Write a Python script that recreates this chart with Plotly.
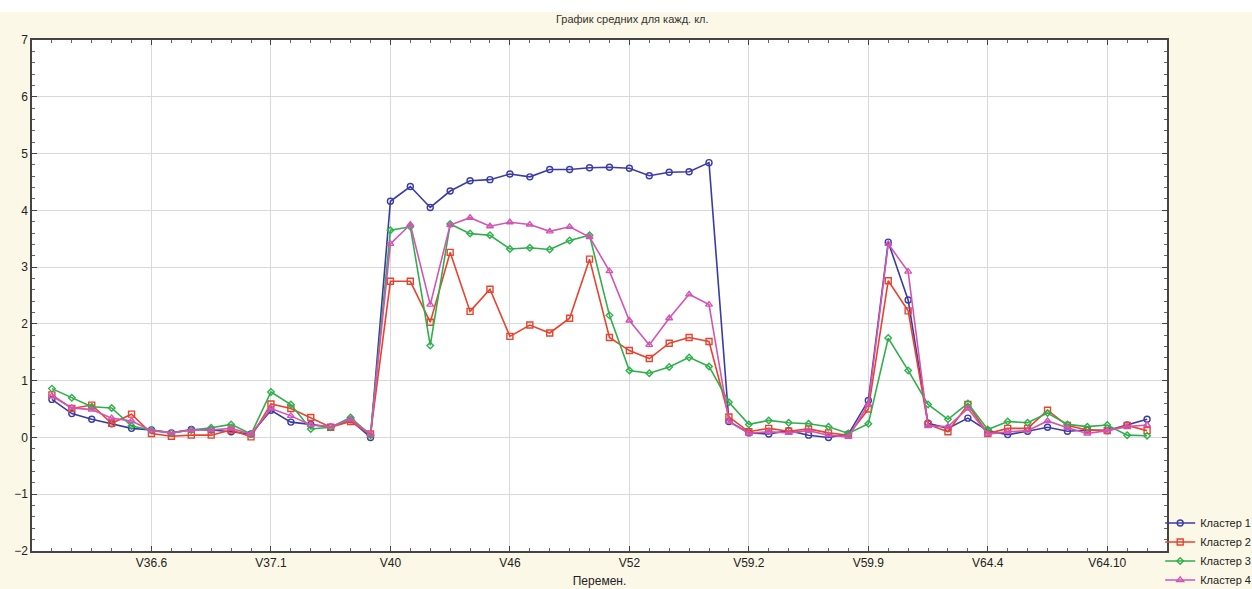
import plotly.graph_objects as go

title = "График средних для кажд. кл."
x_title = "Перемен."
tick_labels = ["V36.6", "V37.1", "V40", "V46", "V52", "V59.2", "V59.9", "V64.4", "V64.10"]
series_names = ["Кластер 1", "Кластер 2", "Кластер 3", "Кластер 4"]

cluster1 = [0.67, 0.42, 0.32, 0.24, 0.16, 0.13, 0.08, 0.14, 0.13, 0.10, 0.06, 0.48, 0.27, 0.23, 0.18, 0.31, 0.00,
            4.16, 4.42, 4.05, 4.34, 4.52, 4.54, 4.64, 4.59, 4.72, 4.72, 4.75, 4.76, 4.74, 4.61, 4.67, 4.68, 4.84,
            0.28, 0.08, 0.06, 0.12, 0.04, 0.00, 0.06, 0.65, 3.44, 2.42, 0.25, 0.16, 0.34, 0.12, 0.05, 0.11, 0.18,
            0.11, 0.13, 0.12, 0.22, 0.32]
cluster2 = [0.75, 0.51, 0.57, 0.25, 0.41, 0.07, 0.02, 0.04, 0.04, 0.13, 0.01, 0.59, 0.51, 0.35, 0.18, 0.28, 0.06,
            2.75, 2.75, 2.03, 3.26, 2.22, 2.61, 1.78, 1.98, 1.84, 2.10, 3.14, 1.76, 1.53, 1.39, 1.66, 1.76, 1.69,
            0.36, 0.10, 0.16, 0.11, 0.15, 0.08, 0.04, 0.50, 2.76, 2.23, 0.23, 0.10, 0.58, 0.07, 0.16, 0.16, 0.48,
            0.21, 0.13, 0.12, 0.21, 0.12]
cluster3 = [0.86, 0.70, 0.54, 0.52, 0.20, 0.13, 0.08, 0.13, 0.17, 0.23, 0.06, 0.80, 0.58, 0.15, 0.18, 0.35, 0.04,
            3.65, 3.71, 1.62, 3.76, 3.59, 3.56, 3.32, 3.34, 3.31, 3.47, 3.56, 2.15, 1.18, 1.13, 1.24, 1.41, 1.25,
            0.62, 0.23, 0.30, 0.26, 0.24, 0.19, 0.07, 0.24, 1.75, 1.18, 0.58, 0.32, 0.60, 0.14, 0.28, 0.26, 0.43,
            0.23, 0.19, 0.22, 0.04, 0.03]
cluster4 = [0.73, 0.52, 0.49, 0.34, 0.29, 0.12, 0.08, 0.13, 0.13, 0.16, 0.06, 0.51, 0.38, 0.22, 0.19, 0.32, 0.06,
            3.41, 3.75, 2.34, 3.74, 3.87, 3.72, 3.79, 3.75, 3.63, 3.71, 3.53, 2.93, 2.06, 1.63, 2.10, 2.52, 2.34,
            0.28, 0.07, 0.10, 0.08, 0.12, 0.04, 0.01, 0.58, 3.41, 2.92, 0.20, 0.19, 0.51, 0.06, 0.10, 0.12, 0.29,
            0.17, 0.07, 0.12, 0.19, 0.22]

n = len(cluster1)
x = list(range(1, n + 1))
tick_step = 6
tickvals = [tick_step * (k + 1) for k in range(len(tick_labels))]

colors = ["#3B3BA6", "#E8432E", "#2FAF4B", "#D255B4"]
symbols = ["circle-open", "square-open", "diamond-open", "triangle-up-open"]
sizes = [6, 6, 5, 6]
data = [cluster1, cluster2, cluster3, cluster4]

fig = go.Figure()
for name, ys, c, s, sz in zip(series_names, data, colors, symbols, sizes):
    fig.add_trace(go.Scatter(
        x=x, y=ys, name=name, mode="lines+markers",
        line=dict(color=c, width=1.6),
        marker=dict(symbol=s, size=sz, color=c, line=dict(color=c, width=1.4)),
    ))

fig.update_layout(
    width=1252, height=589,
    margin=dict(l=32, r=85, t=40, b=38, autoexpand=False),
    paper_bgcolor="#FCF8E7",
    plot_bgcolor="white",
    font=dict(family="Arial, Liberation Sans", size=12, color="#222222"),
    title=dict(text=title, x=0.505, xanchor="center", y=0.968, yanchor="middle",
               font=dict(size=11, color="#333333")),
    showlegend=True,
    legend=dict(x=0.994, xanchor="left", y=-0.085, yanchor="bottom",
                bgcolor="rgba(0,0,0,0)", font=dict(size=11, color="#222222"),
                itemwidth=30, tracegroupgap=0),
    shapes=[dict(type="rect", xref="paper", yref="paper", x0=-0.1, x1=1.1,
                 y0=1 + 28 / 511, y1=1.2, fillcolor="white", line=dict(width=0), layer="below")],
)

fig.update_xaxes(
    range=[0, n + 1], tickmode="array", tickvals=tickvals, ticktext=tick_labels,
    showgrid=True, gridcolor="#D9D9D9", gridwidth=1, automargin=False,
    showline=True, linecolor="#444444", linewidth=1.5, mirror="ticks",
    ticks="inside", ticklen=5, tickcolor="#444444",
    minor=dict(tickmode="linear", tick0=0, dtick=1, ticks="inside", ticklen=3, tickcolor="#666666", showgrid=False),
    zeroline=False,
    title=dict(text=x_title, standoff=7, font=dict(size=12)),
    tickfont=dict(size=12),
)
fig.update_yaxes(
    range=[-2, 7], dtick=1, tick0=0, automargin=False,
    showgrid=True, gridcolor="#D9D9D9", gridwidth=1,
    showline=True, linecolor="#444444", linewidth=1.5, mirror="ticks",
    ticks="inside", ticklen=5, tickcolor="#444444",
    minor=dict(dtick=0.2, ticks="inside", ticklen=3, tickcolor="#666666", showgrid=False),
    zeroline=False, tickfont=dict(size=12),
)

fig.write_html("out.html", config={"displayModeBar": False},
               post_script="document.body.style.margin='0px';document.body.style.overflow='hidden';")
